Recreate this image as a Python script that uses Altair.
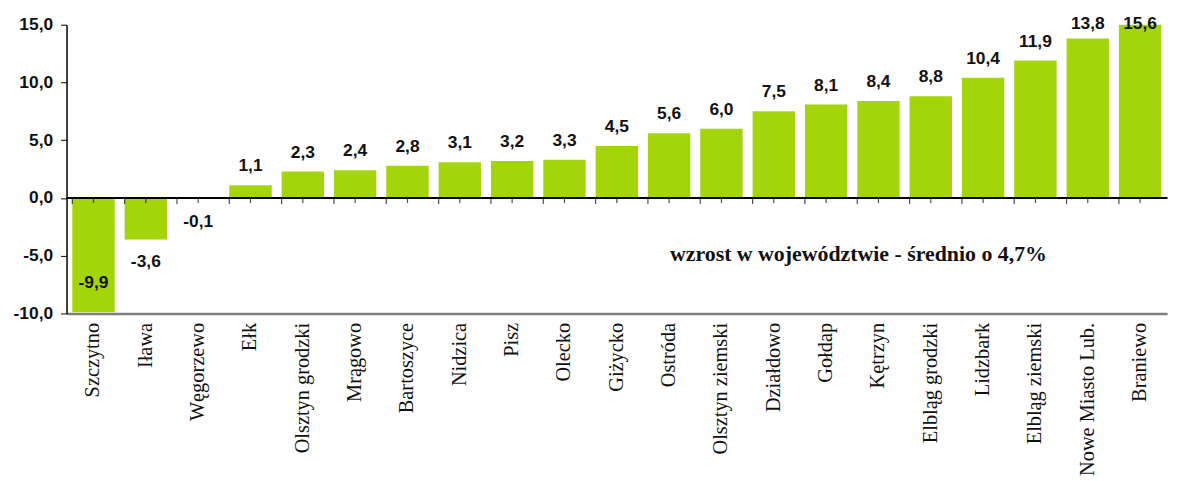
import altair as alt
import pandas as pd

categories = ["Szczytno", "Iława", "Węgorzewo", "Ełk", "Olsztyn grodzki", "Mrągowo",
              "Bartoszyce", "Nidzica", "Pisz", "Olecko", "Giżycko", "Ostróda",
              "Olsztyn ziemski", "Działdowo", "Gołdap", "Kętrzyn", "Elbląg grodzki",
              "Lidzbark", "Elbląg ziemski", "Nowe Miasto Lub.", "Braniewo"]
values = [-9.9, -3.6, -0.1, 1.1, 2.3, 2.4, 2.8, 3.1, 3.2, 3.3, 4.5, 5.6,
          6.0, 7.5, 8.1, 8.4, 8.8, 10.4, 11.9, 13.8, 15.6]
y_ticks = [-10, -5, 0, 5, 10, 15]
note = "wzrost w województwie - średnio o 4,7%"

df = pd.DataFrame({"cat": categories, "v": values})

GREEN = "#A4D40A"
FMT = "replace(replace(format({f}, '.1f'), '.', ','), '\u2212', '-')"

x_enc = alt.X("cat:N", sort=categories,
              scale=alt.Scale(paddingInner=0.19, paddingOuter=0.11),
              axis=alt.Axis(title=None, ticks=False, domainColor="#7f7f7f",
                            domainWidth=2.5, labelAngle=270, labelAlign="right",
                            labelBaseline="middle", labelPadding=9,
                            labelFont="Liberation Serif", labelFontSize=20.5,
                            labelColor="#111111"))
y_scale = alt.Scale(domain=[-10, 15], nice=False, zero=False)
y_enc = alt.Y("v:Q", scale=y_scale,
              axis=alt.Axis(title=None, values=y_ticks, grid=False,
                            labelExpr=FMT.format(f="datum.value"),
                            labelFont="Liberation Sans", labelFontSize=17.5,
                            labelFontWeight="bold", labelColor="#111111",
                            labelPadding=8, tickSize=6, tickColor="black",
                            domainColor="black", domainWidth=1.5))

base = alt.Chart(df)

bars = base.mark_bar(color=GREEN, clip=True).encode(x=x_enc, y=y_enc)

lab = base.transform_calculate(
    txt=FMT.format(f="datum.v"),
    ly="datum.v >= 0 ? min(datum.v, 13.4) : max(datum.v, -5.4)",
)
txt_style = dict(font="Liberation Sans", fontSize=17.5, fontWeight="bold",
                 color="#111111", baseline="alphabetic", align="center")
pos_labels = lab.transform_filter("datum.v >= 0").mark_text(dy=-14, **txt_style).encode(
    x=alt.X("cat:N", sort=categories), y=alt.Y("ly:Q", scale=y_scale), text="txt:N")
neg_labels = lab.transform_filter("datum.v < 0").mark_text(dy=28, **txt_style).encode(
    x=alt.X("cat:N", sort=categories), y=alt.Y("ly:Q", scale=y_scale), text="txt:N")

zero_line = alt.Chart(df).mark_rule(color="black", strokeWidth=1.5).encode(y=alt.datum(0))

center_ticks = base.mark_tick(orient="vertical", color="black", thickness=1.2,
                              size=5, yOffset=2.5).encode(
    x=alt.X("cat:N", sort=categories), y=alt.datum(0))
edge_ticks = base.mark_tick(orient="vertical", color="black", thickness=1.2,
                            size=6, yOffset=3).encode(
    x=alt.X("cat:N", sort=categories, bandPosition=0), y=alt.datum(0))

annot = alt.Chart(df).transform_filter("datum.cat == 'Szczytno'").mark_text(
    font="Liberation Serif", fontSize=22, fontWeight="bold", color="#111111",
    align="center", baseline="middle").encode(
    x=alt.value(798), y=alt.value(231), text=alt.value(note))

chart = alt.layer(bars, zero_line, center_ticks, edge_ticks, pos_labels, neg_labels, annot).properties(
    width=1109, height=291, background="white"
).configure_view(stroke=None)

chart.save("out.html", embed_options={"renderer": "svg", "actions": False})
